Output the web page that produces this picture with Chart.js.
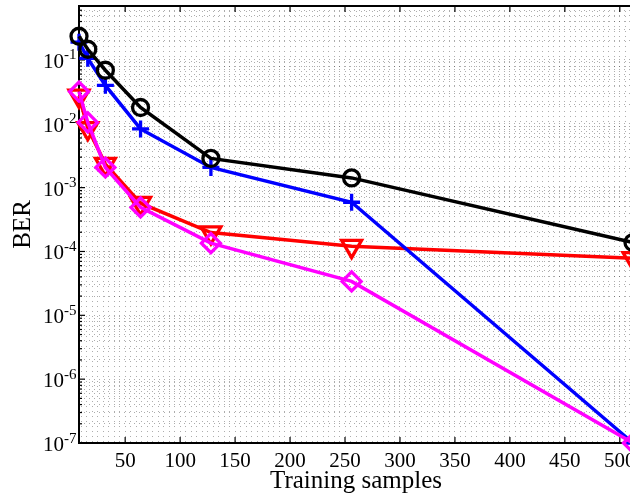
<!DOCTYPE html>
<html>
<head>
<meta charset="utf-8">
<script src="https://cdn.jsdelivr.net/npm/chart.js@4.4.0/dist/chart.umd.min.js"></script>
<style>
html, body { margin: 0; padding: 0; background: #fff; overflow: hidden; }
#wrap { width: 640px; height: 496px; }
</style>
</head>
<body>
<div id="wrap"><canvas id="berChart"></canvas></div>
<script>
// training set sizes and BER
const samples = [8, 16, 32, 64, 128, 256, 512];
const berBlack = [0.235, 0.147, 0.069, 0.018, 0.00287, 0.00142, 0.000138];
const berBlue = [0.19, 0.106, 0.040, 0.0083, 0.00207, 0.00059, 1.0e-7];
const berRed = [0.0274, 0.0085, 0.00234, 0.00057, 0.000198, 0.000121, 0.000078];
const berMagenta = [0.032, 0.0105, 0.00207, 0.00049, 0.000135, 0.000034, 1.0e-7];

const xTickLabels = [50, 100, 150, 200, 250, 300, 350, 400, 450, 500];
const yDecades = [-7, -6, -5, -4, -3, -2, -1];

const serif = '"Liberation Serif", "Times New Roman", serif';
Chart.defaults.font.family = serif;
Chart.defaults.color = '#000';

function pts(ys) {
    return samples.map((s, i) => ({ x: s, y: ys[i] }));
}

function series(ys, color, style, radius, rotation) {
    return {
        data: pts(ys),
        borderColor: color,
        borderWidth: 3.5,
        pointStyle: style,
        pointRadius: radius,
        pointHoverRadius: radius,
        pointRotation: rotation || 0,
        pointBorderColor: color,
        pointBackgroundColor: 'rgba(0,0,0,0)',
        pointBorderWidth: 3.3,
        tension: 0,
        clip: false
    };
}

// MATLAB style box with inward ticks
const axesBox = {
    id: 'axesBox',
    beforeDatasetsDraw(chart) {
        const { ctx, chartArea: a, scales: { x, y } } = chart;
        const line = (x1, y1, x2, y2) => {
            ctx.beginPath();
            ctx.moveTo(x1, y1);
            ctx.lineTo(x2, y2);
            ctx.stroke();
        };
        ctx.save();
        ctx.strokeStyle = '#000';
        ctx.lineWidth = 1.2;
        xTickLabels.forEach(v => {
            const px = x.getPixelForValue(v);
            line(px, a.bottom, px, a.bottom - 6);
            line(px, a.top, px, a.top + 6);
        });
        y.ticks.forEach(t => {
            const py = y.getPixelForValue(t.value);
            const major = Math.abs(Math.log10(t.value) - Math.round(Math.log10(t.value))) < 1e-6;
            line(a.left, py, a.left + (major ? 6 : 3), py);
        });
        ctx.lineWidth = 2;
        ctx.strokeRect(a.left, a.top, a.right - a.left, a.bottom - a.top);
        ctx.restore();
    }
};

// 10^k labels with raised exponent
const powerLabels = {
    id: 'powerLabels',
    afterDraw(chart) {
        const { ctx, scales: { y } } = chart;
        ctx.save();
        ctx.fillStyle = '#000';
        ctx.textBaseline = 'alphabetic';
        yDecades.forEach(k => {
            const py = y.getPixelForValue(Math.pow(10, k));
            ctx.font = '21px ' + serif;
            ctx.textAlign = 'right';
            ctx.fillText('10', 64, py + 8);
            ctx.font = '15px ' + serif;
            ctx.textAlign = 'left';
            ctx.fillText('-' + (-k), 64, py - 0.5);
        });
        ctx.restore();
    }
};

const gridDots = 'rgba(0,0,0,0.32)';

new Chart(document.getElementById('berChart'), {
    type: 'line',
    data: {
        datasets: [
            series(berBlack, '#000000', 'circle', 8),
            series(berMagenta, '#ff00ff', 'rectRot', 9.5),
            series(berBlue, '#0000ff', 'cross', 8.5),
            series(berRed, '#ff0000', 'triangle', 11.5, 180)
        ]
    },
    options: {
        responsive: true,
        maintainAspectRatio: false,
        animation: false,
        layout: { autoPadding: false, padding: { top: 6, right: 7, left: 0, bottom: 0 } },
        plugins: {
            legend: { display: false },
            tooltip: { enabled: false }
        },
        scales: {
            x: {
                type: 'linear',
                min: 8,
                max: 512,
                afterBuildTicks: scale => {
                    const t = [];
                    for (let v = 10; v <= 510; v += 5) t.push({ value: v });
                    scale.ticks = t;
                },
                afterFit: scale => { scale.height = 53; },
                ticks: {
                    autoSkip: false,
                    maxRotation: 0,
                    padding: 6,
                    font: { size: 21 },
                    callback: v => xTickLabels.includes(v) ? String(v) : ''
                },
                grid: { color: gridDots, lineWidth: 1, drawTicks: false },
                border: { display: false, dash: [1, 4] },
                title: {
                    display: true,
                    text: 'Training samples',
                    font: { size: 25 },
                    padding: { top: 0, bottom: 0 }
                }
            },
            y: {
                type: 'logarithmic',
                min: 1e-7,
                max: 0.7,
                afterBuildTicks: scale => {
                    const t = [];
                    yDecades.forEach(k => {
                        for (let m = 1; m <= 9; m++) {
                            const v = m * Math.pow(10, k);
                            if (v <= 0.7) t.push({ value: v });
                        }
                    });
                    scale.ticks = t;
                },
                afterFit: scale => { scale.width = 79; },
                ticks: { display: false },
                grid: { color: gridDots, lineWidth: 1, drawTicks: false },
                border: { display: false, dash: [1, 4] },
                title: {
                    display: true,
                    text: 'BER',
                    font: { size: 25 },
                    padding: { top: 8, bottom: 0 }
                }
            }
        }
    },
    plugins: [axesBox, powerLabels]
});
</script>
</body>
</html>
